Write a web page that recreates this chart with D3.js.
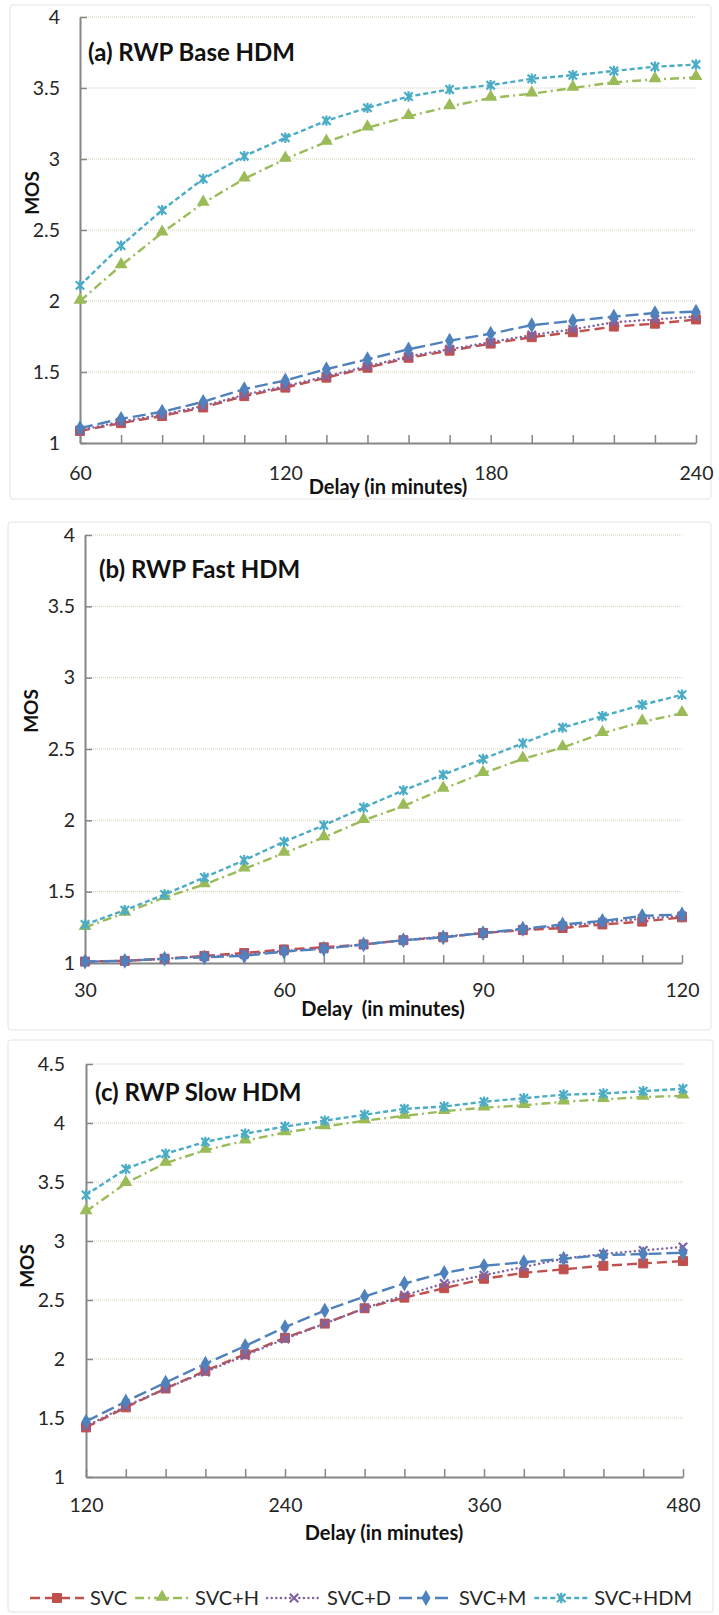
<!DOCTYPE html>
<html>
<head>
<meta charset="utf-8">
<script src="https://cdn.jsdelivr.net/npm/d3@7"></script>
<style>
  body { margin: 0; background: #fff; }
</style>
</head>
<body>
<script>
// ---- data ----
const seriesNames = ["SVC", "SVC+H", "SVC+D", "SVC+M", "SVC+HDM"];

// (a) RWP Base HDM
const delayA = [60, 72, 84, 96, 108, 120, 132, 144, 156, 168, 180, 192, 204, 216, 228, 240];
const svcA    = [1.085, 1.14, 1.19, 1.25, 1.33, 1.39, 1.46, 1.53, 1.60, 1.65, 1.70, 1.745, 1.78, 1.82, 1.84, 1.87];
const svcHA   = [2.00, 2.25, 2.48, 2.69, 2.86, 3.00, 3.12, 3.22, 3.30, 3.37, 3.43, 3.46, 3.50, 3.54, 3.56, 3.575];
const svcDA   = [1.09, 1.15, 1.20, 1.26, 1.34, 1.40, 1.47, 1.54, 1.61, 1.66, 1.71, 1.76, 1.80, 1.85, 1.87, 1.89];
const svcMA   = [1.105, 1.17, 1.22, 1.29, 1.38, 1.44, 1.52, 1.59, 1.66, 1.72, 1.77, 1.83, 1.86, 1.89, 1.915, 1.925];
const svcHDMA = [2.11, 2.39, 2.64, 2.86, 3.02, 3.15, 3.27, 3.36, 3.44, 3.49, 3.52, 3.565, 3.59, 3.62, 3.65, 3.665];

// (b) RWP Fast HDM
const delayB = [30, 36, 42, 48, 54, 60, 66, 72, 78, 84, 90, 96, 102, 108, 114, 120];
const svcB    = [1.01, 1.015, 1.03, 1.05, 1.07, 1.095, 1.11, 1.13, 1.16, 1.18, 1.21, 1.23, 1.245, 1.27, 1.29, 1.32];
const svcHB   = [1.25, 1.35, 1.46, 1.55, 1.66, 1.77, 1.88, 2.00, 2.10, 2.22, 2.33, 2.43, 2.51, 2.61, 2.69, 2.75];
const svcDB   = [1.01, 1.015, 1.03, 1.045, 1.06, 1.085, 1.10, 1.13, 1.16, 1.185, 1.21, 1.235, 1.26, 1.285, 1.31, 1.33];
const svcMB   = [1.01, 1.015, 1.03, 1.04, 1.05, 1.08, 1.10, 1.13, 1.16, 1.18, 1.21, 1.24, 1.27, 1.295, 1.33, 1.34];
const svcHDMB = [1.27, 1.37, 1.48, 1.60, 1.72, 1.85, 1.965, 2.09, 2.21, 2.32, 2.43, 2.54, 2.65, 2.73, 2.81, 2.88];

// (c) RWP Slow HDM
const delayC = [120, 144, 168, 192, 216, 240, 264, 288, 312, 336, 360, 384, 408, 432, 456, 480];
const svcC    = [1.42, 1.59, 1.75, 1.90, 2.04, 2.18, 2.30, 2.43, 2.52, 2.60, 2.68, 2.73, 2.76, 2.79, 2.81, 2.83];
const svcHC   = [3.25, 3.49, 3.66, 3.77, 3.85, 3.92, 3.97, 4.02, 4.06, 4.10, 4.13, 4.15, 4.18, 4.20, 4.22, 4.23];
const svcDC   = [1.43, 1.60, 1.75, 1.89, 2.03, 2.17, 2.30, 2.43, 2.54, 2.64, 2.71, 2.78, 2.85, 2.89, 2.92, 2.95];
const svcMC   = [1.47, 1.64, 1.80, 1.96, 2.11, 2.27, 2.41, 2.53, 2.64, 2.73, 2.79, 2.82, 2.85, 2.88, 2.89, 2.90];
const svcHDMC = [3.39, 3.61, 3.74, 3.84, 3.91, 3.97, 4.02, 4.07, 4.12, 4.14, 4.18, 4.21, 4.24, 4.25, 4.27, 4.29];

// tick labels
const yTicksAB = [1, 1.5, 2, 2.5, 3, 3.5, 4];
const yTicksC  = [1, 1.5, 2, 2.5, 3, 3.5, 4, 4.5];
const xLabelsA = [60, 120, 180, 240];
const xLabelsB = [30, 60, 90, 120];
const xLabelsC = [120, 240, 360, 480];

// ---- look ----
const styles = [
  { color: "#c0504d", dash: "10,5",    marker: "square",   cap: "butt"  },
  { color: "#9bbb59", dash: "9,4,2,4", marker: "triangle", cap: "butt"  },
  { color: "#8064a2", dash: "0.1,4.5", marker: "x",        cap: "round" },
  { color: "#4f81bd", dash: "13,5",    marker: "diamond",  cap: "butt"  },
  { color: "#4bacc6", dash: "5,3",     marker: "star",     cap: "butt"  }
];

const panels = [
  { title: "(a) RWP Base HDM", delays: delayA, series: [svcA, svcHA, svcDA, svcMA, svcHDMA],
    yTicks: yTicksAB, xLabels: xLabelsA,
    left: 80, right: 696, top: 17, bottom: 443, box: [10, 5, 701, 494],
    titleX: 88, titleY: 61, mosX: 39, mosY: 193, yPad: 20, xPad: 23, delayX: 388, delayY: 494 },
  { title: "(b) RWP Fast HDM", delays: delayB, series: [svcB, svcHB, svcDB, svcMB, svcHDMB],
    yTicks: yTicksAB, xLabels: xLabelsB,
    left: 85, right: 682, top: 535, bottom: 963, box: [8, 522, 703, 508],
    titleX: 99, titleY: 578, mosX: 38, mosY: 711, yPad: 10, xPad: 20, delayX: 383, delayY: 1016 },
  { title: "(c) RWP Slow HDM", delays: delayC, series: [svcC, svcHC, svcDC, svcMC, svcHDMC],
    yTicks: yTicksC, xLabels: xLabelsC,
    left: 86, right: 683, top: 1064, bottom: 1477, box: [8, 1040, 705, 572],
    titleX: 95, titleY: 1101, mosX: 34, mosY: 1266, yPad: 21, xPad: 21, delayX: 384, delayY: 1540 }
];

const width = 719, height = 1615;
const font = "Lato, 'Open Sans', sans-serif";

const svg = d3.select("body").append("svg")
  .attr("width", width)
  .attr("height", height)
  .style("font-family", font);

function drawMarker(g, type, color) {
  if (type === "square") {
    g.append("path").attr("d", d3.symbol(d3.symbolSquare, 80)()).attr("fill", color)
      .attr("stroke", color).attr("stroke-width", 1);
  } else if (type === "triangle") {
    g.append("path").attr("d", d3.symbol(d3.symbolTriangle, 72)()).attr("fill", color)
      .attr("transform", "translate(0,-1)");
  } else if (type === "diamond") {
    g.append("path").attr("d", d3.symbol(d3.symbolDiamond, 72)()).attr("fill", color);
  } else {
    const r = 4.2;
    let d = `M${-r},${-r}L${r},${r}M${-r},${r}L${r},${-r}`;
    if (type === "star") d += `M0,${-r - 1}L0,${r + 1}`;
    g.append("path").attr("d", d).attr("fill", "none")
      .attr("stroke", color).attr("stroke-width", 2.2);
  }
}

panels.forEach(p => {
  const g = svg.append("g");

  g.append("rect")
    .attr("x", p.box[0]).attr("y", p.box[1])
    .attr("width", p.box[2]).attr("height", p.box[3])
    .attr("rx", 3)
    .attr("fill", "#fff")
    .attr("stroke", "#e3e3e3");

  const x = d3.scaleLinear()
    .domain(d3.extent(p.delays))
    .range([p.left, p.right]);

  const y = d3.scaleLinear()
    .domain([1, d3.max(p.yTicks)])
    .range([p.bottom, p.top]);

  // gridlines
  g.append("g")
    .selectAll("line")
    .data(p.yTicks.filter(t => t > 1))
    .join("line")
      .attr("x1", p.left).attr("x2", p.right)
      .attr("y1", d => y(d)).attr("y2", d => y(d))
      .attr("stroke", "#d6ceb0")
      .attr("stroke-width", 1)
      .attr("stroke-dasharray", "1,1");

  // y axis
  const yAxis = d3.axisLeft(y)
    .tickValues(p.yTicks)
    .tickFormat(d3.format("~g"))
    .tickSizeInner(-7)
    .tickSizeOuter(0)
    .tickPadding(p.yPad);

  const ya = g.append("g")
    .attr("transform", `translate(${p.left},0)`)
    .call(yAxis);

  // x axis
  const xAxis = d3.axisBottom(x)
    .tickValues(p.delays)
    .tickFormat(d => p.xLabels.includes(d) ? d : "")
    .tickSizeInner(-8)
    .tickSizeOuter(0)
    .tickPadding(p.xPad);

  const xa = g.append("g")
    .attr("transform", `translate(0,${p.bottom})`)
    .call(xAxis);

  [ya, xa].forEach(a => {
    a.select(".domain").attr("stroke", "#868686").attr("stroke-width", 2);
    a.selectAll(".tick line").attr("stroke", "#868686").attr("stroke-width", 1.5);
    a.selectAll(".tick text")
      .attr("fill", "#262626")
      .style("font-family", font)
      .style("font-size", "19.5px");
  });

  // series
  const line = d3.line()
    .x((d, i) => x(p.delays[i]))
    .y(d => y(d));

  p.series.forEach((vals, si) => {
    const st = styles[si];
    g.append("path")
      .datum(vals)
      .attr("d", line)
      .attr("fill", "none")
      .attr("stroke", st.color)
      .attr("stroke-width", 2.4)
      .attr("stroke-linecap", st.cap)
      .attr("stroke-dasharray", st.dash);

    g.append("g")
      .selectAll("g")
      .data(vals)
      .join("g")
        .attr("transform", (d, i) => `translate(${x(p.delays[i])},${y(d)})`)
        .each(function() { drawMarker(d3.select(this), st.marker, st.color); });
  });

  // texts
  g.append("text")
    .attr("x", p.titleX).attr("y", p.titleY)
    .attr("font-size", 24).attr("font-weight", "bold")
    .attr("fill", "#111")
    .text(p.title);

  g.append("text")
    .attr("transform", `translate(${p.mosX},${p.mosY}) rotate(-90)`)
    .attr("text-anchor", "middle")
    .attr("font-size", 19).attr("font-weight", "bold")
    .attr("fill", "#111")
    .text("MOS");

  g.append("text")
    .attr("x", p.delayX).attr("y", p.delayY)
    .attr("text-anchor", "middle")
    .attr("font-size", 20).attr("font-weight", "bold")
    .attr("fill", "#111")
    .text(p === panels[1] ? "Delay\u00a0 (in minutes)" : "Delay (in minutes)");
});

// legend
const legend = svg.append("g").attr("transform", "translate(0,1598)");
let lx = 30;
seriesNames.forEach((name, i) => {
  const st = styles[i];
  const item = legend.append("g").attr("transform", `translate(${lx},0)`);
  item.append("line")
    .attr("x1", 0).attr("x2", 54)
    .attr("stroke", st.color)
    .attr("stroke-width", 2.4)
    .attr("stroke-linecap", st.cap)
    .attr("stroke-dasharray", st.dash);
  const m = item.append("g").attr("transform", "translate(27,0)");
  drawMarker(m, st.marker, st.color);
  const t = item.append("text")
    .attr("x", 60).attr("y", 7)
    .attr("font-size", 20)
    .attr("fill", "#262626")
    .text(name);
  lx += 60 + t.node().getComputedTextLength() + 8;
});
</script>
</body>
</html>
